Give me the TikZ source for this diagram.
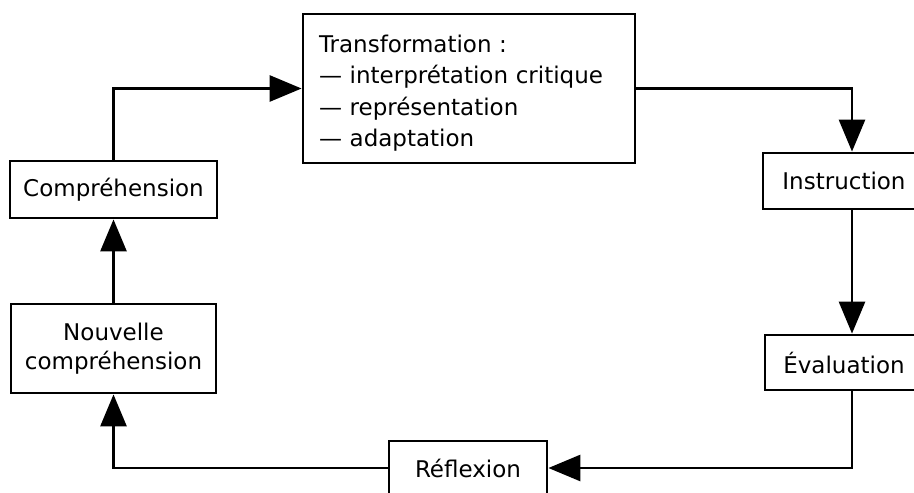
\documentclass[tikz,border=0pt]{standalone}
\usepackage{fontspec}
\setmainfont{DejaVu Sans}
\usetikzlibrary{arrows.meta}
\begin{document}
\begin{tikzpicture}[x=1pt,y=-1pt,
  box/.style={draw, line width=2.8pt, fill=white, font=\fontsize{23}{30}\selectfont, inner sep=0pt, align=center},
  link/.style={line width=2.8pt, -{Triangle[length=32pt,width=26pt]}}]
\useasboundingbox (0,0) rectangle (914,493);
\clip (0,0) rectangle (914,493);
\coordinate (rx) at (852,0);
\node[box, minimum width=332pt, minimum height=149pt, text width=300pt, align=left, font=\fontsize{23}{31.3}\selectfont] (trans) at (469,88.5)
  {\rule{0pt}{27pt}Transformation :\\— interprétation critique\\— représentation\\— adaptation};
\node[box, minimum width=162pt, minimum height=56pt] (instr) at (844,181) {Instruction};
\node[box, minimum width=158pt, minimum height=55pt] (eval) at (844,362.5) {Évaluation};
\node[box, minimum width=158pt, minimum height=54pt] (refl) at (468,468) {Réflexion};
\node[box, minimum width=207pt, minimum height=57pt] (comp) at (113.5,189.5) {Compréhension};
\node[box, minimum width=205pt, minimum height=89pt, font=\fontsize{23}{29}\selectfont] (nouv) at (113.5,348.5) {Nouvelle\\compréhension};
\draw[link] (comp.north) |- (trans.west);
\draw[link] (trans.east) -| (instr.north -| rx);
\draw[link] (instr.south -| rx) -- (eval.north -| rx);
\draw[link] (eval.south -| rx) |- (refl.east);
\draw[link] (refl.west) -| (nouv.south);
\draw[link] (nouv) -- (comp);
\end{tikzpicture}
\end{document}
